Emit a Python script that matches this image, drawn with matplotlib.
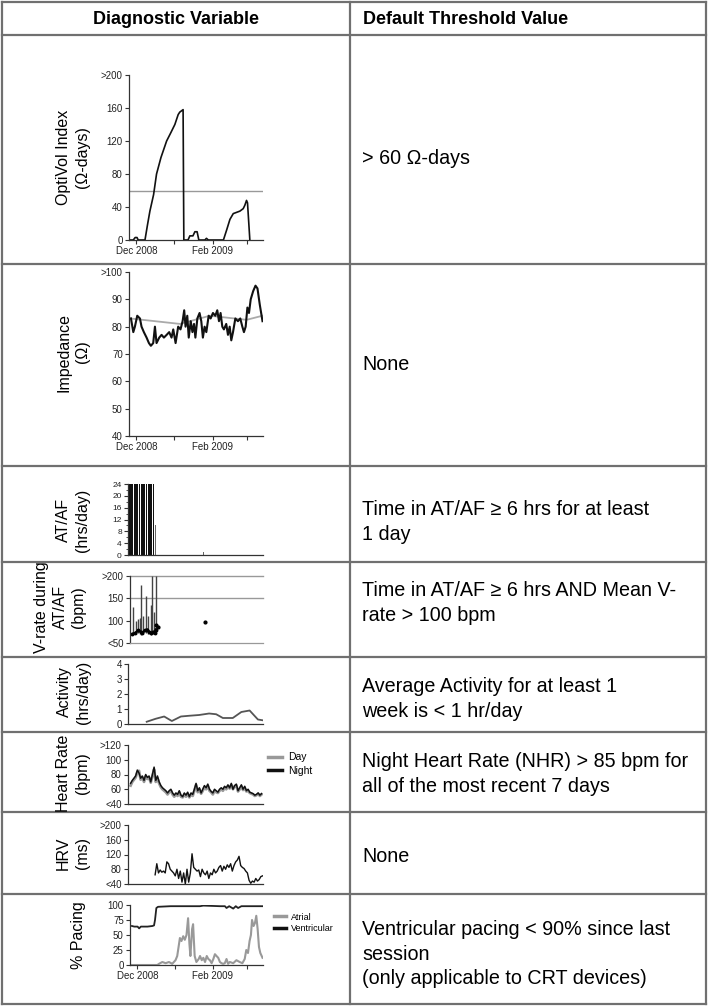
import numpy as np
import matplotlib
matplotlib.use("Agg")
import matplotlib.pyplot as plt
from matplotlib.lines import Line2D

plt.rcParams['font.family'] = ['Liberation Sans', 'DejaVu Sans']

# ---------------- data (x = days since 1 Dec 2008) ----------------
month_ticks = [0, 31, 62, 90]
month_labels = ['Dec 2008', '', 'Feb 2009', '']

optivol_days = [-5, -2.5, -1, 0.5, 1.5, 3, 7, 9, 11, 14, 16.4, 20, 24.6, 28, 31.3, 34, 35.3, 38, 38.6,
                42, 43.5, 46, 47.6, 49.4, 50.8, 55.7, 57, 58.5, 70.8, 73.4, 76.1, 78.8, 84.2, 86.9, 88.2,
                89.6, 90.4, 92.3]
optivol_vals = [0, 0, 3, 3, 0, 0, 0, 18, 35, 55, 80, 100, 120, 130, 140, 152, 155, 158, 0,
                0, 5, 5, 10, 10, 0, 0, 2, 0, 0, 12, 25, 32, 35, 38, 42,
                48, 45, 0]
optivol_threshold = 60

imp_days = [-4.4, -2.5, -1.2, 0.7, 2.9, 4.2, 6.1, 8.3, 10.2, 11.8, 13.7, 15.1, 16.4, 18.6, 20.5,
            22.4, 24.6, 26.7, 28.6, 30.0, 31.9, 34.0, 35.9, 37.6, 38.9, 40.0, 41.4, 42.6, 44.2, 45.6,
            46.9, 48.0, 49.6, 51.4, 52.8, 54.1, 55.5, 56.9, 58.8, 60.4, 62.3, 64.2, 65.8, 67.2, 68.5,
            69.9, 71.2, 73.1, 74.5, 75.9, 77.2, 78.6, 80.5, 82.6, 84.5, 86.2, 87.5, 88.9, 90.3, 91.6,
            93.0, 95.0, 96.9, 98.5, 100.4, 102.6]
imp_vals = [83, 78, 80, 84, 83, 80, 78, 76, 74, 73, 74, 80, 74, 76, 77,
            76, 77, 78, 76, 79, 74, 80, 79, 82, 86, 80, 84, 76, 82, 78,
            81, 76, 83, 85, 82, 76, 80, 78, 84, 83, 85, 84, 86, 82, 85,
            80, 79, 81, 77, 80, 75, 78, 83, 82, 83, 80, 78, 80, 87, 85,
            90, 93, 95, 94, 88, 82]
imp_ref_days = [-5, 35.5, 59.7, 89.6, 102.6]
imp_ref_vals = [83, 81, 84, 82.5, 84]

af_days = [-4.4, -2.5, -0.6, 1.3, 3.2, 5.1, 7.0, 8.9, 10.8, 12.7, 14.6]
af_hours = [24, 24, 24, 24, 24, 24, 24, 24, 24, 24, 24]
af_tail_days = [15.9, 54.9]
af_tail_hours = [10, 1]

vr_days = [-3.9, -1.2, 0.7, 2.3, 3.4, 5.0, 6.9, 8.8, 11.0, 11.8, 13.7, 15.1]
vr_max = [130, 100, 103, 105, 180, 110, 155, 110, 135, 200, 120, 200]
vr_min = [68, 70, 72, 70, 68, 70, 72, 70, 68, 70, 70, 72]
vr_mean_days = [-4.4, -1.9, 0.7, 2.9, 4.2, 6.1, 8.3, 9.6, 11.5, 13.1, 14.2, 15.1]
vr_mean = [70, 72, 78, 75, 72, 78, 80, 75, 72, 75, 72, 80]
vr_dot_days = [15.6, 17.2, 55.7]
vr_dot_vals = [90, 85, 97]

act_days = [9.1, 16.4, 23.2, 29.4, 36.7, 43.5, 51.4, 59.5, 65.2, 70.6, 78.6, 85.5, 92.2, 98.9, 102.6]
act_vals = [0.15, 0.35, 0.5, 0.2, 0.5, 0.55, 0.6, 0.7, 0.65, 0.4, 0.4, 0.8, 0.9, 0.3, 0.25]

hr_start, hr_end = -3.9, 101.8
hr_night = [68, 72, 75, 78, 86, 82, 75, 78, 72, 80, 76, 78, 70, 80, 90, 72, 78, 70, 65, 62,
            60, 58, 55, 58, 60, 55, 52, 55, 53, 58, 52, 50, 55, 52, 56, 50, 55, 53, 60, 68,
            58, 62, 55, 60, 65, 62, 67, 60, 57, 55, 60, 58, 56, 60, 62, 60, 64, 62, 66, 62,
            68, 60, 65, 67, 58, 62, 66, 60, 64, 58, 60, 56, 55, 54, 52, 53, 55, 52, 54]
hr_day = [65, 70, 73, 76, 83, 85, 73, 76, 70, 78, 74, 76, 69, 78, 87, 70, 75, 68, 63, 60,
          58, 56, 53, 56, 58, 53, 50, 53, 51, 56, 50, 49, 53, 50, 54, 49, 53, 51, 58, 66,
          56, 60, 54, 58, 63, 60, 65, 58, 56, 53, 58, 56, 55, 58, 60, 58, 62, 60, 64, 61,
          66, 60, 64, 65, 57, 60, 64, 59, 62, 57, 58, 55, 54, 53, 51, 52, 54, 51, 53]

hrv_start, hrv_end = 15.9, 102.6
hrv_vals = [65, 95, 70, 78, 72, 75, 70, 100, 95, 80, 75, 70, 62, 80, 55, 75, 45, 70, 40, 80,
            45, 70, 122, 85, 80, 75, 78, 60, 80, 70, 65, 75, 55, 70, 65, 80, 70, 75, 85, 90,
            75, 88, 80, 92, 85, 95, 75, 90, 100, 105, 115, 90, 85, 82, 75, 70, 50, 42, 48, 45,
            55, 48, 52, 60, 62]

vent_days = [-4.4, -2.5, 0.2, 1.5, 2.9, 5.6, 8.3, 12.4, 13.7, 14.5, 15.6, 17.0, 27.3, 40.8, 51.4,
             54.1, 67.7, 71.8, 73.1, 75.3, 78.6, 80.7, 82.6, 85.3, 95.0, 102.6]
vent_vals = [65, 64, 64, 61, 64, 64, 64, 65, 66, 75, 95, 97, 98, 98, 98,
             99, 98, 98, 95, 98, 94, 98, 95, 98, 98, 98]
atr_days = [-4.4, 16.4, 17.8, 20.5, 23.2, 25.9, 28.6, 31.3, 32.7, 34.9, 36.2, 37.6, 38.9, 40.3, 41.6,
            42.7, 43.5, 44.9, 45.7, 47.0, 48.4, 50.3, 51.4, 52.8, 54.1, 55.5, 56.9, 58.2, 59.5, 60.9,
            62.3, 63.6, 64.9, 66.3, 67.7, 69.0, 70.3, 71.7, 73.1, 74.4, 75.8, 78.6, 81.2, 83.9, 86.1,
            88.0, 89.3, 90.7, 92.0, 93.1, 94.0, 95.3, 96.4, 97.5, 98.6, 99.7, 100.8, 102.6]
atr_vals = [0, 0, 2, 5, 3, 5, 2, 8, 15, 45, 40, 48, 42, 50, 78,
            35, 15, 60, 68, 15, 5, 10, 15, 8, 12, 5, 15, 10, 8, 3,
            10, 18, 15, 12, 5, 3, 2, 3, 10, 2, 5, 3, 8, 5, 3,
            10, 25, 20, 40, 50, 75, 65, 70, 82, 60, 30, 20, 12]

row_labels = ['OptiVol Index\n(\u03a9-days)', 'Impedance\n(\u03a9)', 'AT/AF\n(hrs/day)',
              'V-rate during\nAT/AF\n(bpm)', 'Activity\n(hrs/day)', 'Heart Rate\n(bpm)',
              'HRV\n(ms)', '% Pacing']
thresholds = ['> 60 \u03a9-days', 'None', 'Time in AT/AF \u2265 6 hrs for at least\n1 day',
              'Time in AT/AF \u2265 6 hrs AND Mean V-\nrate > 100 bpm',
              'Average Activity for at least 1\nweek is < 1 hr/day',
              'Night Heart Rate (NHR) > 85 bpm for\nall of the most recent 7 days', 'None',
              'Ventricular pacing < 90% since last\nsession\n(only applicable to CRT devices)']
headers = ['Diagnostic Variable', 'Default Threshold Value']

# ---------------- layout helpers ----------------
W, H = 710, 1008
fig = plt.figure(figsize=(W / 100, H / 100), dpi=100)


def fx(px):
    return px / W


def fy(py):
    return 1 - py / H


def add_ax(left, right, top, bottom):
    return fig.add_axes([fx(left), fy(bottom), (right - left) / W, (bottom - top) / H])


XLIM = (-6, 103)
AXC = '#333333'


def style(ax, xticks=False):
    for s in ['top', 'right']:
        ax.spines[s].set_visible(False)
    for s in ['left', 'bottom']:
        ax.spines[s].set_color(AXC)
        ax.spines[s].set_linewidth(0.9)
    ax.set_xlim(*XLIM)
    ax.tick_params(axis='both', labelsize=7, length=3, width=0.8, pad=1.5, colors=AXC,
                   labelcolor='#222222')
    if xticks:
        ax.set_xticks(month_ticks)
        ax.set_xticklabels(month_labels)
    else:
        ax.set_xticks([])
    ax.patch.set_alpha(0)


# ---------------- table frame ----------------
LC = '#707070'
row_edges = [2, 35, 264, 466, 562, 657, 732, 812, 894, 1004]
for y in row_edges:
    fig.add_artist(Line2D([fx(2), fx(706)], [fy(y), fy(y)], color=LC, lw=1.6,
                          transform=fig.transFigure))
for x in [2, 350, 706]:
    fig.add_artist(Line2D([fx(x), fx(x)], [fy(2), fy(1004)], color=LC, lw=1.6,
                          transform=fig.transFigure))

fig.text(fx(176), fy(19), headers[0], ha='center', va='center', fontsize=13, fontweight='bold')
fig.text(fx(363), fy(19), headers[1], ha='left', va='center', fontsize=13, fontweight='bold')

thr_y = [158, 365, 522, 603, 699, 774, 857, 954]
for t, y in zip(thresholds, thr_y):
    fig.text(fx(362), fy(y), t, ha='left', va='center', fontsize=14.2, linespacing=1.36)

lab_pos = [(73, 157), (73, 352), (73, 520), (60, 607), (74, 692), (73, 773), (73, 853), (79, 935)]
for t, (x, y) in zip(row_labels, lab_pos):
    fig.text(fx(x), fy(y), t, rotation=90, ha='center', va='center', fontsize=11.5,
             linespacing=1.3, multialignment='center')

# ---------------- 1 OptiVol ----------------
ax = add_ax(129, 263, 75, 240)
style(ax, xticks=True)
ax.axhline(optivol_threshold, color='#999999', lw=1)
ax.plot(optivol_days, optivol_vals, color='#111111', lw=1.2)
ax.set_ylim(0, 200)
ax.set_yticks([0, 40, 80, 120, 160, 200])
ax.set_yticklabels(['0', '40', '80', '120', '160', '>200'])

# ---------------- 2 Impedance ----------------
ax = add_ax(129, 263, 272, 436)
style(ax, xticks=True)
ax.plot(imp_ref_days, imp_ref_vals, color='#aaaaaa', lw=1.3)
ax.plot(imp_days, imp_vals, color='#111111', lw=1.5)
ax.set_ylim(40, 100)
ax.set_yticks([40, 50, 60, 70, 80, 90, 100])
ax.set_yticklabels(['40', '50', '60', '70', '80', '90', '>100'])

# ---------------- 3 AT/AF ----------------
ax = add_ax(128, 263, 484, 555)
style(ax)
ax.bar(af_days, af_hours, width=1.4, color='#111111', linewidth=0)
ax.bar(af_tail_days, af_tail_hours, width=0.8, color='#666666', linewidth=0)
ax.set_ylim(0, 24)
ax.set_yticks([0, 4, 8, 12, 16, 20, 24])
ax.set_yticks(np.arange(0, 25, 2), minor=True)
ax.tick_params(axis='y', which='minor', length=1.5, width=0.6, colors=AXC)
ax.tick_params(axis='y', labelsize=6)

# ---------------- 4 V-rate ----------------
ax = add_ax(130, 263, 576, 643)
style(ax)
ax.spines['bottom'].set_color('#999999')
for g in [150, 200]:
    ax.axhline(g, color='#999999', lw=1, clip_on=False)
ax.vlines(vr_days, vr_min, vr_max, colors='#444444', lw=1)
ax.plot(vr_mean_days, vr_mean, color='#000000', lw=1.8, marker='o', ms=1.8)
ax.plot(vr_dot_days, vr_dot_vals, ls='none', marker='o', ms=2, color='#000000')
ax.set_ylim(50, 200)
ax.set_yticks([50, 100, 150, 200])
ax.set_yticklabels(['<50', '100', '150', '>200'])

# ---------------- 5 Activity ----------------
ax = add_ax(128, 263, 664, 724)
style(ax)
ax.plot(act_days, act_vals, color='#555555', lw=1.3)
ax.set_ylim(0, 4)
ax.set_yticks([0, 1, 2, 3, 4])

# ---------------- 6 Heart Rate ----------------
ax = add_ax(128, 263, 745, 804)
style(ax)
ax.plot(np.linspace(hr_start, hr_end, len(hr_day)), hr_day, color='#999999', lw=2)
ax.plot(np.linspace(hr_start, hr_end, len(hr_night)), hr_night, color='#111111', lw=1.1)
ax.set_ylim(40, 120)
ax.set_yticks([40, 60, 80, 100, 120])
ax.set_yticklabels(['<40', '60', '80', '100', '>120'])
ax.legend([Line2D([], [], color='#999999', lw=2.5), Line2D([], [], color='#111111', lw=2.5)],
          ['Day', 'Night'], loc='center left', bbox_to_anchor=(fx(268), fy(764)),
          bbox_transform=fig.transFigure, frameon=False, fontsize=7.5, handlelength=1.3,
          handletextpad=0.6, labelspacing=0.35, borderpad=0, borderaxespad=0)

# ---------------- 7 HRV ----------------
ax = add_ax(128, 263, 825, 884)
style(ax)
ax.plot(np.linspace(hrv_start, hrv_end, len(hrv_vals)), hrv_vals, color='#111111', lw=1)
ax.set_ylim(40, 200)
ax.set_yticks([40, 80, 120, 160, 200])
ax.set_yticklabels(['<40', '80', '120', '160', '>200'])

# ---------------- 8 % Pacing ----------------
ax = add_ax(130, 263, 905, 965)
style(ax, xticks=True)
ax.plot(atr_days, atr_vals, color='#999999', lw=1.5)
ax.plot(vent_days, vent_vals, color='#222222', lw=1.3)
ax.set_ylim(0, 100)
ax.set_yticks([0, 25, 50, 75, 100])
ax.legend([Line2D([], [], color='#999999', lw=2.5), Line2D([], [], color='#111111', lw=2.5)],
          ['Atrial', 'Ventricular'], loc='center left', bbox_to_anchor=(fx(274), fy(923)),
          bbox_transform=fig.transFigure, frameon=False, fontsize=6.5, handlelength=1.3,
          handletextpad=0.6, labelspacing=0.3, borderpad=0, borderaxespad=0)

fig.savefig('out.png', dpi=100)
